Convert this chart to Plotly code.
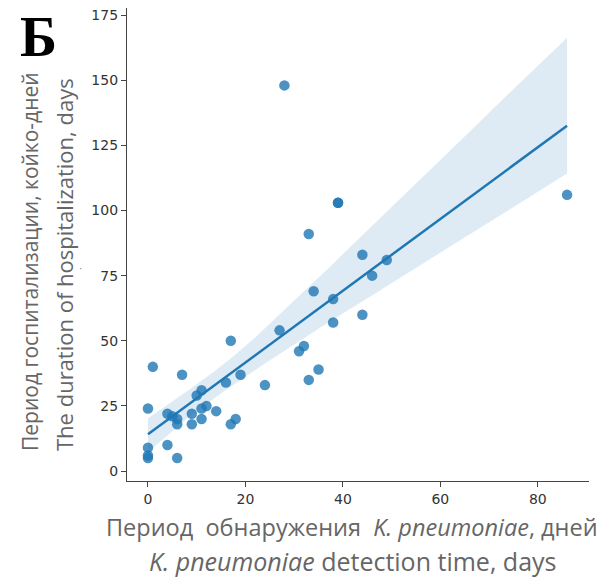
import numpy as np
import plotly.graph_objects as go

# Detection time (days) and hospitalization duration (days)
detection_days = [0, 0, 0, 0, 1, 4, 6, 7, 4, 5, 6, 6, 9, 9, 11, 11, 12, 10, 11, 14,
                  16, 17, 18, 19, 24, 17, 39, 39, 33, 44, 49, 46, 34, 38, 44, 38,
                  27, 32, 31, 35, 33, 86, 28]
hospital_days = [5, 6, 9, 24, 40, 10, 5, 37, 22, 21, 20, 18, 22, 18, 20, 24, 25, 29, 31, 23,
                 34, 18, 20, 37, 33, 50, 103, 103, 91, 83, 81, 75, 69, 66, 60, 57,
                 54, 48, 46, 39, 35, 106, 148]

x_ticks = [0, 20, 40, 60, 80]
y_ticks = [0, 25, 50, 75, 100, 125, 150, 175]

x = np.array(detection_days, dtype=float)
y = np.array(hospital_days, dtype=float)
n = len(x)
b1, b0 = np.polyfit(x, y, 1)
xg = np.linspace(x.min(), x.max(), 100)
yg = b0 + b1 * xg

# 95% confidence band by bootstrap resampling of the observations (seaborn regplot method)
rng = np.random.default_rng(0)
boots = []
for _ in range(1000):
    idx = rng.integers(0, n, n)
    bb1, bb0 = np.polyfit(x[idx], y[idx], 1)
    boots.append(bb0 + bb1 * xg)
boots = np.array(boots)
lo = np.percentile(boots, 2.5, axis=0)
hi = np.percentile(boots, 97.5, axis=0)

blue = "#1f77b4"
fig = go.Figure()
fig.add_trace(go.Scatter(x=np.concatenate([xg, xg[::-1]]), y=np.concatenate([hi, lo[::-1]]),
                         fill="toself", fillcolor="rgba(31,119,180,0.15)",
                         line=dict(width=0), hoverinfo="skip", showlegend=False))
fig.add_trace(go.Scatter(x=x, y=y, mode="markers",
                         marker=dict(size=10.5, color="rgba(31,119,180,0.8)", line=dict(width=0)),
                         showlegend=False))
fig.add_trace(go.Scatter(x=xg, y=yg, mode="lines", line=dict(color=blue, width=2.5),
                         showlegend=False))

axis_common = dict(showgrid=False, zeroline=False, showline=True, linecolor="#444",
                   linewidth=1.3, ticks="outside", ticklen=5, tickcolor="#444",
                   ticklabeloverflow="allow",
                   tickfont=dict(family="DejaVu Sans", size=14, color="#333"))
fig.update_xaxes(range=[-4.3, 90.5], tickvals=x_ticks, **axis_common)
fig.update_yaxes(range=[-3.8, 177.7], tickvals=y_ticks, **axis_common)

W, H = 604, 583
L, R, T, B = 127, 15, 8, 102
plot_w = W - L - R
plot_h = H - T - B


def pp(px, py):
    return (px - L) / plot_w, (H - B - py) / plot_h


gray = "#666"
annots = []
for text, (px, py), size, ang in [
    ("Период&nbsp;&nbsp;обнаружения&nbsp;&nbsp;<i>K. pneumoniae</i>, дней", (352, 527), 23.5, 0),
    ("<i>K. pneumoniae</i> detection time, days", (352, 561), 25, 0),
    ("Период госпитализации, койко-дней", (30, 262), 21, -90),
    ("The duration of hospitalization, days", (64, 265), 22, -90),
]:
    xa, ya = pp(px, py)
    annots.append(dict(text=text, x=xa, y=ya, xref="paper", yref="paper", showarrow=False,
                       xanchor="center", yanchor="middle", textangle=ang,
                       font=dict(family="Open Sans, Lato", size=size, color=gray)))
xa, ya = pp(38, 37)
annots.append(dict(text="<b>Б</b>", x=xa, y=ya, xref="paper", yref="paper", showarrow=False,
                   xanchor="center", yanchor="middle",
                   font=dict(family="Liberation Serif, DejaVu Serif", size=56, color="black")))
xa, ya = pp(80, 268)
annots.append(dict(text="·", x=xa, y=ya, xref="paper", yref="paper", showarrow=False,
                   xanchor="center", yanchor="middle",
                   font=dict(family="DejaVu Sans", size=10, color="#888")))

fig.update_layout(
    width=W, height=H,
    margin=dict(l=L, r=R, t=T, b=B),
    paper_bgcolor="white", plot_bgcolor="white",
    annotations=annots,
)

fig.write_html("out.html", config={"displayModeBar": False},
               post_script="document.body.style.margin='0';")
